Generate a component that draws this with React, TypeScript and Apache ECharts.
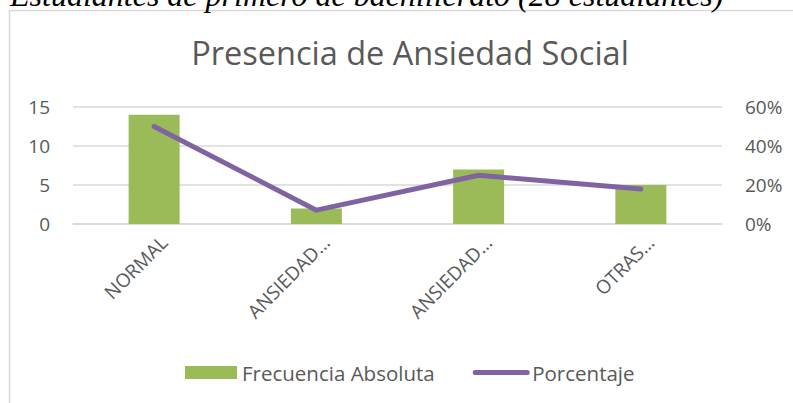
import React, { useEffect, useRef } from "react";
import * as echarts from "echarts";

const tickLabels = ["NORMAL", "ANSIEDAD…", "ANSIEDAD…", "OTRAS…"];
const frecuencia = [14, 2, 7, 5];
const porcentaje = [50, 7.1, 25, 17.9];
const chartTitle = "Presencia de Ansiedad Social";
const caption = "Estudiantes de primero de bachillerato (28 estudiantes)";
const seriesNames = ["Frecuencia Absoluta", "Porcentaje"];

const FONT = "'Open Sans', sans-serif";
const TXT = "#595959";

export default function App() {
  const ref = useRef<HTMLDivElement>(null);
  useEffect(() => {
    if (!ref.current) return;
    const chart = echarts.init(ref.current, undefined, { renderer: "svg" });
    chart.setOption({
      animation: false,
      backgroundColor: "#ffffff",
      textStyle: { fontFamily: FONT, color: TXT },
      title: {
        text: chartTitle,
        left: 410,
        textAlign: "center",
        top: 36,
        padding: 0,
        textStyle: { fontFamily: FONT, fontSize: 32.5, fontWeight: "normal", color: TXT },
      },
      graphic: [
        {
          type: "rect",
          shape: { x: 9.5, y: 10.5, width: 802, height: 420 },
          style: { fill: "none", stroke: "#d9d9d9", lineWidth: 1.5 },
          z: -1,
        },
        {
          type: "text",
          x: 10,
          y: -21,
          style: {
            text: caption,
            fontFamily: "'Liberation Serif', serif",
            fontStyle: "italic",
            fontSize: 32,
            fill: "#000",
            verticalAlign: "top",
          },
        },
      ],
      legend: {
        left: 185,
        top: 362,
        padding: 0,
        itemWidth: 52,
        itemHeight: 13,
        itemGap: 38,
        textStyle: { fontFamily: FONT, fontSize: 20.5, color: TXT },
        data: [
          { name: seriesNames[0], icon: "rect" },
          {
            name: seriesNames[1],
            itemStyle: { opacity: 0 },
            lineStyle: { width: 5, cap: "round", color: "#8064a2" },
          },
        ],
      },
      grid: { left: 73, right: 71, top: 107, bottom: 179 },
      xAxis: {
        type: "category",
        data: tickLabels,
        axisLine: { show: true, lineStyle: { color: "#d9d9d9", width: 1.5 } },
        axisTick: { show: false },
        axisLabel: {
          rotate: 45,
          margin: 25,
          interval: 0,
          padding: [0, -14, 0, 0],
          fontFamily: FONT,
          fontSize: 19,
          color: TXT,
        },
      },
      yAxis: [
        {
          type: "value",
          min: 0,
          max: 15,
          interval: 5,
          axisLine: { show: false },
          axisTick: { show: false },
          splitLine: { lineStyle: { color: "#d9d9d9", width: 1.5 } },
          axisLabel: { margin: 23, fontFamily: FONT, fontSize: 19, color: TXT },
        },
        {
          type: "value",
          min: 0,
          max: 60,
          interval: 20,
          axisLine: { show: false },
          axisTick: { show: false },
          splitLine: { show: false },
          axisLabel: {
            margin: 23,
            fontFamily: FONT,
            fontSize: 19,
            color: TXT,
            formatter: "{value}%",
          },
        },
      ],
      series: [
        {
          name: seriesNames[0],
          type: "bar",
          data: frecuencia,
          barWidth: 51,
          itemStyle: { color: "#9bbb59" },
          yAxisIndex: 0,
        },
        {
          name: seriesNames[1],
          type: "line",
          data: porcentaje,
          yAxisIndex: 1,
          symbol: "none",
          lineStyle: { color: "#8064a2", width: 5, cap: "round", join: "round" },
          itemStyle: { color: "#8064a2" },
        },
      ],
    });
    return () => chart.dispose();
  }, []);
  return (
    <div
      ref={ref}
      style={{ position: "fixed", left: 0, top: 0, width: 793, height: 403 }}
    />
  );
}
